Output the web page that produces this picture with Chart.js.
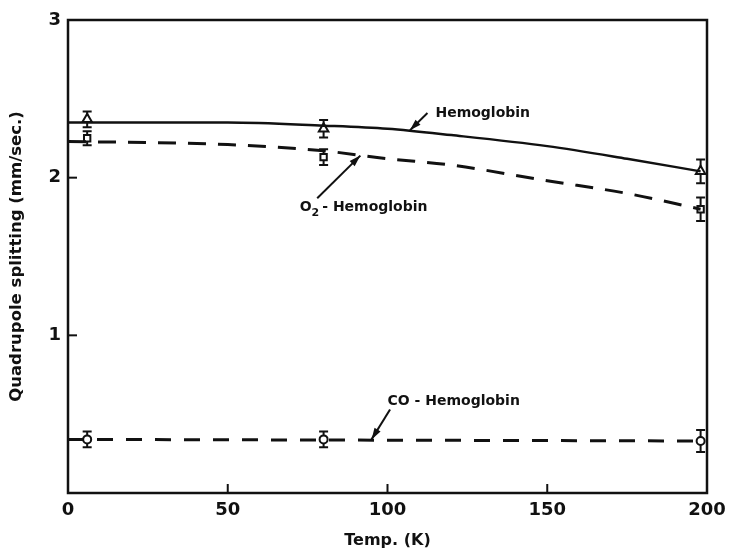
<!DOCTYPE html>
<html>
<head>
<meta charset="utf-8">
<script src="https://cdn.jsdelivr.net/npm/chart.js@4.4.1/dist/chart.umd.min.js"></script>
<style>
  html, body { margin: 0; padding: 0; background: #fff; }
  #qs { display: block; }
</style>
</head>
<body>
<canvas id="qs" width="729" height="550"></canvas>
<script>
// measured points (K, mm/sec) with error half-widths
const tempK = [6, 80, 198];
const hbQS = [2.37, 2.31, 2.04];
const hbErr = [0.05, 0.055, 0.075];
const o2QS = [2.25, 2.13, 1.80];
const o2Err = [0.045, 0.05, 0.075];
const coQS = [0.34, 0.34, 0.33];
const coErr = [0.05, 0.05, 0.07];

// drawn-through curves
const hbCurveT = [0, 50, 80, 100, 120, 150, 175, 198];
const hbCurveQS = [2.35, 2.35, 2.33, 2.31, 2.27, 2.20, 2.12, 2.04];
const o2CurveT = [0, 50, 80, 100, 120, 150, 175, 198];
const o2CurveQS = [2.23, 2.21, 2.17, 2.12, 2.08, 1.98, 1.90, 1.80];
const coCurveT = [0, 198];
const coCurveQS = [0.34, 0.33];

const xTicks = [0, 50, 100, 150, 200];
const yTicks = [0, 1, 2, 3];

// labels: text, text anchor (T, QS), arrow tail, arrow tip
const labels = [
	{ text: "Hemoglobin", at: [115, 2.41], from: [112.5, 2.41], to: [107, 2.30] },
	{ text: "O2-Hemoglobin", at: [72.5, 1.81], from: [78, 1.87], to: [91.5, 2.14] },
	{ text: "CO-Hemoglobin", at: [100, 0.58], from: [100.8, 0.53], to: [95, 0.34] },
];

const FONT = '"DejaVu Sans", Verdana, sans-serif';
const pts = (ys) => tempK.map((t, i) => ({ x: t, y: ys[i] }));
const curve = (ts, ys) => ts.map((t, i) => ({ x: t, y: ys[i] }));

const frame = {
	id: 'frame',
	afterDraw(chart) {
		const { ctx, chartArea: a, scales } = chart;
		ctx.save();
		ctx.strokeStyle = '#111';
		ctx.lineWidth = 2.5;
		ctx.strokeRect(a.left, a.top, a.right - a.left, a.bottom - a.top);
		ctx.lineWidth = 2;
		// inward ticks
		xTicks.forEach(v => {
			if (v === 0 || v === 200) return;
			const px = scales.x.getPixelForValue(v);
			ctx.beginPath(); ctx.moveTo(px, a.bottom); ctx.lineTo(px, a.bottom - 9); ctx.stroke();
		});
		yTicks.forEach(v => {
			if (v === 0 || v === 3) return;
			const py = scales.y.getPixelForValue(v);
			ctx.beginPath(); ctx.moveTo(a.left, py); ctx.lineTo(a.left + 9, py); ctx.stroke();
		});
		ctx.restore();
	}
};

const errorBars = {
	id: 'errorBars',
	beforeDatasetsDraw(chart) {
		const { ctx, scales } = chart;
		ctx.save();
		ctx.strokeStyle = '#111';
		ctx.lineWidth = 2;
		chart.data.datasets.forEach(ds => {
			if (!ds.err) return;
			ds.data.forEach((p, i) => {
				const px = scales.x.getPixelForValue(p.x);
				const top = scales.y.getPixelForValue(p.y + ds.err[i]);
				const bot = scales.y.getPixelForValue(p.y - ds.err[i]);
				ctx.beginPath();
				ctx.moveTo(px, top); ctx.lineTo(px, bot);
				ctx.moveTo(px - 4.5, top); ctx.lineTo(px + 4.5, top);
				ctx.moveTo(px - 4.5, bot); ctx.lineTo(px + 4.5, bot);
				ctx.stroke();
			});
		});
		ctx.restore();
	}
};

const callouts = {
	id: 'callouts',
	afterDraw(chart) {
		const { ctx, scales } = chart;
		const X = v => scales.x.getPixelForValue(v);
		const Y = v => scales.y.getPixelForValue(v);
		ctx.save();
		ctx.fillStyle = '#111';
		ctx.strokeStyle = '#111';
		ctx.lineWidth = 2;
		ctx.textBaseline = 'middle';
		labels.forEach(l => {
			const x0 = X(l.from[0]), y0 = Y(l.from[1]);
			const x1 = X(l.to[0]), y1 = Y(l.to[1]);
			ctx.beginPath(); ctx.moveTo(x0, y0); ctx.lineTo(x1, y1); ctx.stroke();
			const ang = Math.atan2(y1 - y0, x1 - x0);
			ctx.beginPath();
			ctx.moveTo(x1, y1);
			ctx.lineTo(x1 - 12 * Math.cos(ang - 0.3), y1 - 12 * Math.sin(ang - 0.3));
			ctx.lineTo(x1 - 12 * Math.cos(ang + 0.3), y1 - 12 * Math.sin(ang + 0.3));
			ctx.closePath(); ctx.fill();

			let tx = X(l.at[0]);
			const ty = Y(l.at[1]);
			ctx.font = 'bold 14px ' + FONT;
			if (l.text.startsWith('O2')) {
				ctx.fillText('O', tx, ty);
				tx += ctx.measureText('O').width;
				ctx.font = 'bold 11px ' + FONT;
				ctx.fillText('2', tx, ty + 6);
				tx += ctx.measureText('2').width + 3;
				ctx.font = 'bold 14px ' + FONT;
				ctx.fillText('- Hemoglobin', tx, ty);
			} else if (l.text.startsWith('CO')) {
				ctx.fillText('CO - Hemoglobin', tx, ty);
			} else {
				ctx.fillText(l.text, tx, ty);
			}
		});
		ctx.restore();
	}
};

const marker = { borderColor: '#111', backgroundColor: '#fff', borderWidth: 2, showLine: false };

new Chart(document.getElementById('qs'), {
	type: 'scatter',
	data: {
		datasets: [
			{ type: 'line', data: curve(hbCurveT, hbCurveQS), borderColor: '#111', borderWidth: 2.5, pointRadius: 0, cubicInterpolationMode: 'monotone' },
			{ type: 'line', data: curve(o2CurveT, o2CurveQS), borderColor: '#111', borderWidth: 3, borderDash: [18, 12], pointRadius: 0, cubicInterpolationMode: 'monotone' },
			{ type: 'line', data: curve(coCurveT, coCurveQS), borderColor: '#111', borderWidth: 3, borderDash: [16, 13], pointRadius: 0 },
			{ ...marker, data: pts(hbQS), err: hbErr, pointStyle: 'triangle', pointRadius: 5.5 },
			{ ...marker, data: pts(o2QS), err: o2Err, pointStyle: 'rect', pointRadius: 4.5 },
			{ ...marker, data: pts(coQS), err: coErr, pointStyle: 'circle', pointRadius: 4 },
		]
	},
	options: {
		responsive: false,
		animation: false,
		events: [],
		layout: { padding: { top: 20, right: 22, left: 0, bottom: 0 } },
		plugins: { legend: { display: false }, tooltip: { enabled: false } },
		scales: {
			x: {
				type: 'linear', min: 0, max: 200,
				afterFit: s => { s.height = 57; s.paddingLeft = 0; s.paddingRight = 0; },
				afterBuildTicks: s => { s.ticks = xTicks.map(v => ({ value: v })); },
				grid: { display: false, drawTicks: false },
				border: { display: false },
				ticks: { color: '#111', padding: 7, font: { family: FONT, size: 18, weight: 'bold' } },
				title: { display: true, text: 'Temp. (K)', color: '#111', padding: 0, font: { family: FONT, size: 16, weight: 'bold' } },
			},
			y: {
				type: 'linear', min: 0, max: 3,
				afterFit: s => { s.width = 68; s.paddingTop = 0; s.paddingBottom = 0; },
				afterBuildTicks: s => { s.ticks = yTicks.map(v => ({ value: v })); },
				grid: { display: false, drawTicks: false },
				border: { display: false },
				ticks: { color: '#111', padding: 7, font: { family: FONT, size: 18, weight: 'bold' },
					callback: v => v === 0 ? '' : v },
				title: { display: true, text: 'Quadrupole splitting (mm/sec.)', color: '#111', padding: { top: 7, bottom: 0 }, font: { family: FONT, size: 16.5, weight: 'bold' } },
			},
		},
	},
	plugins: [errorBars, frame, callouts],
});
</script>
</body>
</html>
